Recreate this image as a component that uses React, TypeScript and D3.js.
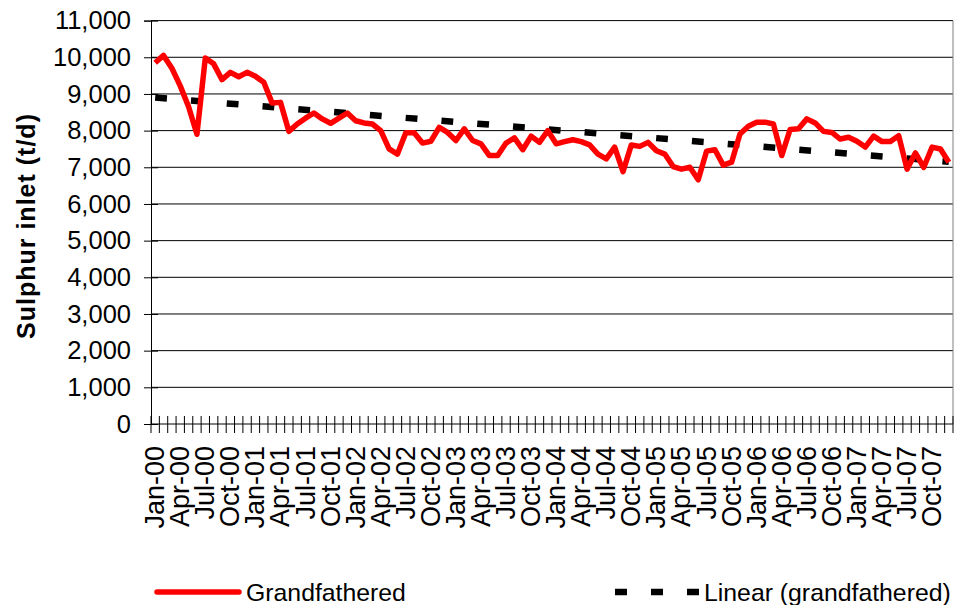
import React, { useEffect, useRef } from 'react';
import * as d3 from 'd3';

// category labels
const monthNames = ['Jan', 'Feb', 'Mar', 'Apr', 'May', 'Jun', 'Jul', 'Aug', 'Sep', 'Oct', 'Nov', 'Dec'];
const yearLabels = ['00', '01', '02', '03', '04', '05', '06', '07'];
const categories = yearLabels.flatMap(yr => monthNames.map(m => `${m}-${yr}`));

// monthly sulphur inlet, t/d
const grandfathered = [
  9850, 10050, 9700, 9220, 8650, 7900, 9980, 9820, 9390, 9590, 9470, 9590,
  9480, 9320, 8750, 8770, 7980, 8180, 8340, 8480, 8320, 8200, 8340, 8480,
  8270, 8210, 8180, 8000, 7500, 7360, 7940, 7940, 7660, 7710, 8090, 7950,
  7730, 8050, 7730, 7640, 7320, 7320, 7660, 7800, 7480, 7850, 7680, 8000,
  7640, 7700, 7750, 7700, 7610, 7360, 7230, 7550, 6880, 7610, 7570, 7680,
  7450, 7360, 7020, 6950, 7000, 6660, 7440, 7480, 7060, 7140, 7910, 8120,
  8230, 8230, 8180, 7320, 8030, 8050, 8320, 8210, 7980, 7950, 7770, 7820,
  7710, 7550, 7850, 7700, 7700, 7860, 6950, 7390, 7000, 7550, 7500, 7140,
];

// linear trend end values, first and last month
const trendValues = [8900, 7150];

const yTicks = [0, 1000, 2000, 3000, 4000, 5000, 6000, 7000, 8000, 9000, 10000, 11000];

const seriesNames = ['Grandfathered', 'Linear (grandfathered)'];

const W = 955;
const H = 605;
const FONT = 'Arial, "Liberation Sans", sans-serif';

const App = () => {
  const svgRef = useRef<SVGSVGElement>(null);

  useEffect(() => {
    const svg = d3.select(svgRef.current);
    svg.selectAll('*').remove();

    const margin = { top: 20.6, right: 2, bottom: 181, left: 151 };

    const x = d3.scaleBand<number>()
      .domain(d3.range(categories.length))
      .range([margin.left, W - margin.right])
      .padding(0);
    const bw = x.bandwidth();
    const cx = (i: number) => (x(i) as number) + bw / 2;

    const y = d3.scaleLinear()
      .domain([0, 11000])
      .range([H - margin.bottom, margin.top]);

    const fmt = d3.format(',');

    // gridlines
    svg.append('g')
      .selectAll('line')
      .data(yTicks.filter(t => t > 0))
      .enter()
      .append('line')
      .attr('x1', margin.left)
      .attr('x2', W - margin.right)
      .attr('y1', d => y(d))
      .attr('y2', d => y(d))
      .attr('stroke', '#000')
      .attr('stroke-width', 1);

    // right edge of plot area
    svg.append('line')
      .attr('x1', W - margin.right)
      .attr('x2', W - margin.right)
      .attr('y1', y(11000))
      .attr('y2', y(0))
      .attr('stroke', '#808080')
      .attr('stroke-width', 1);

    // y axis
    const yAxis = svg.append('g')
      .attr('transform', `translate(${margin.left},0)`)
      .call(d3.axisLeft(y).tickValues(yTicks).tickFormat(d => fmt(d as number)).tickSize(7).tickPadding(13));
    yAxis.select('.domain').attr('stroke', '#000');
    yAxis.selectAll('.tick line').attr('stroke', '#000').clone().attr('x2', 7);
    yAxis.selectAll('text')
      .attr('font-family', FONT)
      .attr('font-size', 25.5)
      .attr('fill', '#000');

    // x axis: ticks at every month boundary, crossing the axis
    svg.append('line')
      .attr('x1', margin.left)
      .attr('x2', W - margin.right)
      .attr('y1', y(0))
      .attr('y2', y(0))
      .attr('stroke', '#000');

    const bounds = d3.range(categories.length + 1).map(i => margin.left + i * bw);
    svg.append('g')
      .selectAll('line')
      .data(bounds)
      .enter()
      .append('line')
      .attr('x1', d => d)
      .attr('x2', d => d)
      .attr('y1', y(0) - 8)
      .attr('y2', y(0) + 9)
      .attr('stroke', '#000')
      .attr('stroke-width', 1);

    svg.append('g')
      .selectAll('text')
      .data(categories.map((c, i) => ({ c, i })).filter(d => d.i % 3 === 0))
      .enter()
      .append('text')
      .attr('transform', d => `translate(${cx(d.i) + 9},${y(0) + 22}) rotate(-90)`)
      .attr('text-anchor', 'end')
      .attr('font-family', FONT)
      .attr('font-size', 27)
      .attr('fill', '#000')
      .text(d => d.c);

    // y title
    svg.append('text')
      .attr('transform', `translate(35,226) rotate(-90)`)
      .attr('text-anchor', 'middle')
      .attr('font-family', FONT)
      .attr('font-weight', 'bold')
      .attr('font-size', 25)
      .attr('letter-spacing', 1)
      .attr('fill', '#000')
      .text('Sulphur inlet (t/d)');

    // trend line
    const last = categories.length - 1;
    svg.append('line')
      .attr('x1', cx(0))
      .attr('x2', cx(last))
      .attr('y1', y(trendValues[0]))
      .attr('y2', y(trendValues[1]))
      .attr('stroke', '#000')
      .attr('stroke-width', 6.5)
      .attr('stroke-dasharray', '11.8 24.1');

    // data line
    const line = d3.line<number>()
      .x((d, i) => cx(i))
      .y(d => y(d));

    svg.append('path')
      .datum(grandfathered)
      .attr('d', line)
      .attr('fill', 'none')
      .attr('stroke', '#ff0000')
      .attr('stroke-width', 5.5)
      .attr('stroke-linejoin', 'round');

    // legend
    const ly = 592;
    svg.append('line')
      .attr('x1', 157).attr('x2', 239)
      .attr('y1', ly).attr('y2', ly)
      .attr('stroke', '#ff0000')
      .attr('stroke-width', 5.5)
      .attr('stroke-linecap', 'round');
    svg.append('text')
      .attr('x', 246).attr('y', ly + 9)
      .attr('font-family', FONT)
      .attr('font-size', 24.8)
      .attr('fill', '#000')
      .text(seriesNames[0]);

    svg.append('line')
      .attr('x1', 615).attr('x2', 702)
      .attr('y1', ly).attr('y2', ly)
      .attr('stroke', '#000')
      .attr('stroke-width', 6.5)
      .attr('stroke-dasharray', '12 24');
    svg.append('text')
      .attr('x', 704).attr('y', ly + 9)
      .attr('font-family', FONT)
      .attr('font-size', 24.8)
      .attr('fill', '#000')
      .text(seriesNames[1]);
  }, []);

  return (
    <svg
      ref={svgRef}
      width={W}
      height={H}
      style={{ position: 'absolute', left: 0, top: 0, display: 'block', background: '#fff' }}
    />
  );
};

export default App;
